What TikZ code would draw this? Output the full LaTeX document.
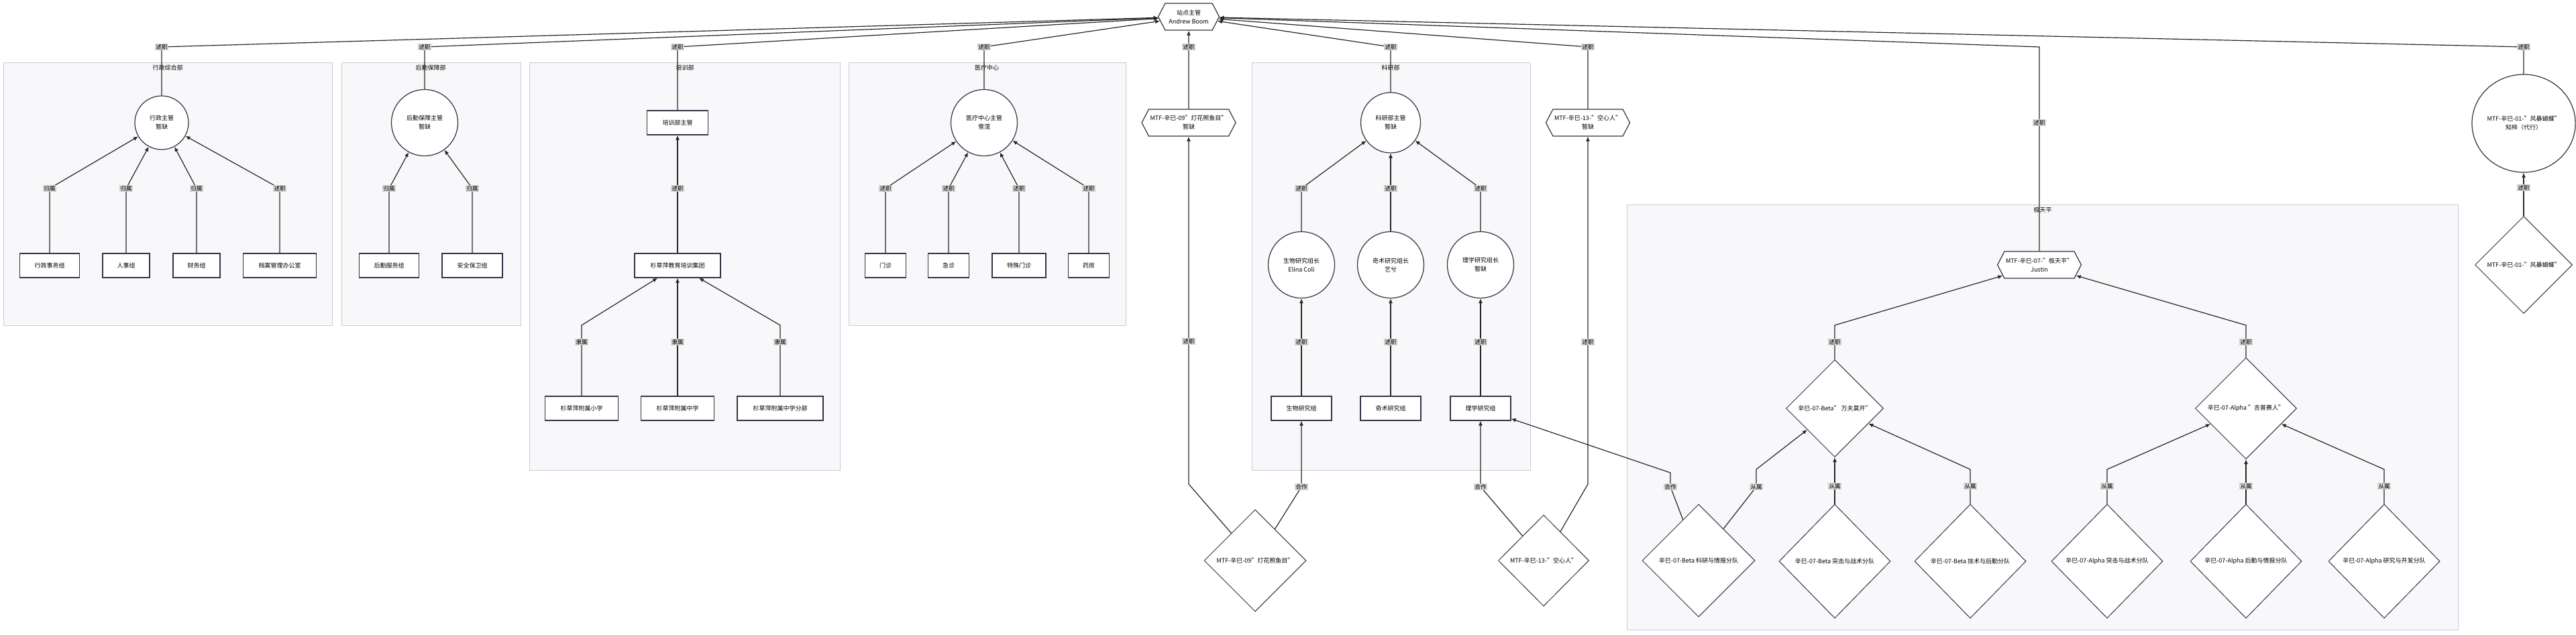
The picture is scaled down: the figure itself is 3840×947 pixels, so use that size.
\documentclass[tikz,border=0pt]{standalone}
\usepackage{fontspec}
\setmainfont{Noto Sans CJK SC}
\usetikzlibrary{shapes.geometric,shapes.symbols,arrows.meta,positioning}
\definecolor{clusfill}{HTML}{F8F8FA}
\definecolor{clusline}{HTML}{CACAD9}
\definecolor{ink}{HTML}{333344}
\definecolor{labfill}{HTML}{D4D4D4}

\begin{document}
\begin{tikzpicture}[x=1pt,y=-1pt,
         font=\fontsize{9}{13}\selectfont,
         cluster/.style = {draw=clusline,line width=1pt,fill=clusfill},
         ctitle/.style = {inner sep=1pt},
         boxn/.style = {rectangle,draw=ink,line width=1.2pt,fill=white,
            minimum height=36pt,inner sep=2pt},
         ell/.style = {ellipse,draw=ink,line width=1.2pt,fill=white,
            align=center,inner sep=0pt},
         hexn/.style = {signal,signal to=east and west,signal pointer angle=125,
            draw=ink,line width=1.2pt,fill=white,align=center,
            minimum height=40pt,inner sep=2pt},
         diam/.style = {diamond,draw=ink,line width=1pt,fill=white,
            inner sep=0pt,align=center},
         lab/.style = {fill=labfill,inner sep=1.2pt,font=\fontsize{8.5}{10}\selectfont},
         flow/.style = {draw=black!85,line width=1.2pt,-{Latex[length=7pt,width=6pt]}}
]
   \useasboundingbox (0,0) rectangle (3840,947);

   % departments
   \draw[cluster] (5,94) rectangle (495,485);
   \draw[cluster] (509,94) rectangle (776,485);
   \draw[cluster] (789,94) rectangle (1252,701);
   \draw[cluster] (1265,94) rectangle (1678,485);
   \draw[cluster] (1866,94) rectangle (2281,701);
   \draw[cluster] (2425,305) rectangle (3664,939);
   \node[ctitle] (tadm) at (250,101) {行政综合部};
   \node[ctitle] (tlog) at (642,101) {后勤保障部};
   \node[ctitle] (ttrn) at (1021,101) {培训部};
   \node[ctitle] (tmed) at (1471,101) {医疗中心};
   \node[ctitle] (tres) at (2073,101) {科研部};
   \node[ctitle] (tjtp) at (3045,313) {极天平};

   % heads
   \node[hexn,minimum width=91pt] (site) at (1772,25) {站点主管\\Andrew Boom};
   \node[ell,minimum width=80pt,minimum height=80pt] (adm) at (241,183) {行政主管\\暂缺};
   \node[ell,minimum width=99pt,minimum height=99pt] (log) at (633,183) {后勤保障主管\\暂缺};
   \node[boxn,minimum width=91pt] (trn) at (1010,183) {培训部主管};
   \node[ell,minimum width=99pt,minimum height=99pt] (med) at (1467,183) {医疗中心主管\\雪滢};
   \node[hexn,minimum width=140pt] (h09) at (1772,183) {MTF-辛巳-09"灯花照鱼目"\\暂缺};
   \node[ell,minimum width=89pt,minimum height=90pt] (res) at (2073,183) {科研部主管\\暂缺};
   \node[hexn,minimum width=125pt] (h13) at (2367,183) {MTF-辛巳-13-"空心人"\\暂缺};
   \node[hexn,minimum width=124pt] (jtp) at (3040,395) {MTF-辛巳-07-"极天平"\\Justin};
   \node[ell,minimum width=145pt,minimum height=146pt] (fb) at (3762,184) {MTF-辛巳-01-"风暴蝴蝶"\\知梓（代行）};

   % groups
   \node[boxn,minimum width=89pt] (g1) at (74,396) {行政事务组};
   \node[boxn,minimum width=70pt] (g2) at (188,396) {人事组};
   \node[boxn,minimum width=70pt] (g3) at (293,396) {财务组};
   \node[boxn,minimum width=109pt] (g4) at (417,396) {档案管理办公室};
   \node[boxn,minimum width=89pt] (g5) at (580,396) {后勤服务组};
   \node[boxn,minimum width=90pt] (g6) at (704,396) {安全保卫组};
   \node[boxn,minimum width=128pt] (edu) at (1010,396) {杉草萍教育培训集团};
   \node[boxn,minimum width=109pt] (s1) at (867,609) {杉草萍附属小学};
   \node[boxn,minimum width=109pt] (s2) at (1010,609) {杉草萍附属中学};
   \node[boxn,minimum width=128pt] (s3) at (1163,609) {杉草萍附属中学分部};
   \node[boxn,minimum width=61pt] (m1) at (1320,396) {门诊};
   \node[boxn,minimum width=61pt] (m2) at (1414,396) {急诊};
   \node[boxn,minimum width=80pt] (m3) at (1519,396) {特殊门诊};
   \node[boxn,minimum width=61pt] (m4) at (1623,396) {药房};
   \node[ell,minimum width=99pt,minimum height=99pt] (lbio) at (1940,395) {生物研究组长\\Elina Coli};
   \node[ell,minimum width=99pt,minimum height=99pt] (lqs) at (2073,395) {奇术研究组长\\艺兮};
   \node[ell,minimum width=99pt,minimum height=99pt] (lphy) at (2207,395) {理学研究组长\\暂缺};
   \node[boxn,minimum width=90pt] (bio) at (1940,609) {生物研究组};
   \node[boxn,minimum width=90pt] (qs) at (2073,609) {奇术研究组};
   \node[boxn,minimum width=90pt] (phy) at (2207,609) {理学研究组};

   % task forces
   \node[diam,minimum width=152pt,minimum height=152pt] (d09) at (1871,836) {MTF-辛巳-09"灯花照鱼目"};
   \node[diam,minimum width=135pt,minimum height=136pt] (d13) at (2301,836) {MTF-辛巳-13-"空心人"};
   \node[diam,minimum width=168pt,minimum height=168pt] (bsi) at (2532,836) {辛巳-07-Beta 科研与情报分队};
   \node[diam,minimum width=145pt,minimum height=145pt] (beta) at (2735,609) {辛巳-07-Beta" 万夫莫开"};
   \node[diam,minimum width=151pt,minimum height=151pt] (alpha) at (3348,609) {辛巳-07-Alpha "吉普赛人"};
   \node[diam,minimum width=166pt,minimum height=170pt] (bst) at (2735,837) {辛巳-07-Beta 突击与战术分队};
   \node[diam,minimum width=166pt,minimum height=170pt] (btl) at (2937,837) {辛巳-07-Beta 技术与后勤分队};
   \node[diam,minimum width=166pt,minimum height=170pt] (ast) at (3141,837) {辛巳-07-Alpha 突击与战术分队};
   \node[diam,minimum width=166pt,minimum height=170pt] (ali) at (3348,837) {辛巳-07-Alpha 后勤与情报分队};
   \node[diam,minimum width=166pt,minimum height=170pt] (ard) at (3554,837) {辛巳-07-Alpha 研究与开发分队};
   \node[diam,minimum width=145pt,minimum height=145pt] (dfb) at (3762,395) {MTF-辛巳-01-"风暴蝴蝶"};

   % reports to the site
   \draw[flow] (adm) -- (241,70) node[lab] (r1) {述职} -- (site);
   \draw[flow] (log) -- (633,70) node[lab] (r2) {述职} -- (site);
   \draw[flow] (trn) -- (1010,70) node[lab] (r3) {述职} -- (site);
   \draw[flow] (med) -- (1467,70) node[lab] (r4) {述职} -- (site);
   \draw[flow] (h09) -- (1772,70) node[lab] (r5) {述职} -- (site);
   \draw[flow] (res) -- (2073,70) node[lab] (r6) {述职} -- (site);
   \draw[flow] (h13) -- (2367,70) node[lab] (r7) {述职} -- (site);
   \draw[flow] (jtp) -- (3040,183) node[lab] (r8) {述职} -- (3040,70) -- (site);
   \draw[flow] (fb) -- (3762,70) node[lab] (r9) {述职} -- (site);

   % inside the departments
   \draw[flow] (g1) -- (74,281) node[lab] (a1) {归属} -- (adm);
   \draw[flow] (g2) -- (188,281) node[lab] (a2) {归属} -- (adm);
   \draw[flow] (g3) -- (293,281) node[lab] (a3) {归属} -- (adm);
   \draw[flow] (g4) -- (417,281) node[lab] (a4) {述职} -- (adm);
   \draw[flow] (g5) -- (580,281) node[lab] (a5) {归属} -- (log);
   \draw[flow] (g6) -- (704,281) node[lab] (a6) {归属} -- (log);
   \draw[flow] (edu) -- (1010,281) node[lab] (t0) {述职} -- (trn);
   \draw[flow] (s1) -- (867,510) node[lab] (t1) {隶属} -- (867,485) -- (edu);
   \draw[flow] (s2) -- (1010,510) node[lab] (t2) {隶属} -- (edu);
   \draw[flow] (s3) -- (1163,510) node[lab] (t3) {隶属} -- (1163,485) -- (edu);
   \draw[flow] (m1) -- (1320,281) node[lab] (c1) {述职} -- (med);
   \draw[flow] (m2) -- (1414,281) node[lab] (c2) {述职} -- (med);
   \draw[flow] (m3) -- (1519,281) node[lab] (c3) {述职} -- (med);
   \draw[flow] (m4) -- (1623,281) node[lab] (c4) {述职} -- (med);
   \draw[flow] (lbio) -- (1940,281) node[lab] (k1) {述职} -- (res);
   \draw[flow] (lqs) -- (2073,281) node[lab] (k2) {述职} -- (res);
   \draw[flow] (lphy) -- (2207,281) node[lab] (k3) {述职} -- (res);
   \draw[flow] (bio) -- (1940,510) node[lab] (k4) {述职} -- (lbio);
   \draw[flow] (qs) -- (2073,510) node[lab] (k5) {述职} -- (lqs);
   \draw[flow] (phy) -- (2207,510) node[lab] (k6) {述职} -- (lphy);

   % task forces
   \draw[flow] (d09) -- (1772,722) -- (1772,509) node[lab] (f1) {述职} -- (h09);
   \draw[flow] (d09) -- (1940,726) node[lab] (f2) {合作} -- (bio);
   \draw[flow] (d13) -- (2207,726) node[lab] (f3) {合作} -- (phy);
   \draw[flow] (d13) -- (2367,722) -- (2367,510) node[lab] (f4) {述职} -- (h13);
   \draw[flow] (bsi) -- (2490,726) node[lab] (f5) {合作} -- (2490,705) -- (phy);
   \draw[flow] (bsi) -- (2618,726) node[lab] (f6) {从属} -- (2618,700) -- (beta);
   \draw[flow] (bst) -- (2735,725) node[lab] (f7) {从属} -- (beta);
   \draw[flow] (btl) -- (2937,725) node[lab] (f8) {从属} -- (2937,700) -- (beta);
   \draw[flow] (ast) -- (3141,725) node[lab] (f9) {从属} -- (3141,700) -- (alpha);
   \draw[flow] (ali) -- (3348,725) node[lab] (f10) {从属} -- (alpha);
   \draw[flow] (ard) -- (3554,725) node[lab] (f11) {从属} -- (3554,700) -- (alpha);
   \draw[flow] (beta) -- (2735,510) node[lab] (j1) {述职} -- (2735,485) -- (jtp);
   \draw[flow] (alpha) -- (3348,510) node[lab] (j2) {述职} -- (3348,485) -- (jtp);
   \draw[flow] (dfb) -- (3762,280) node[lab] (j3) {述职} -- (fb);
\end{tikzpicture}
\end{document}
